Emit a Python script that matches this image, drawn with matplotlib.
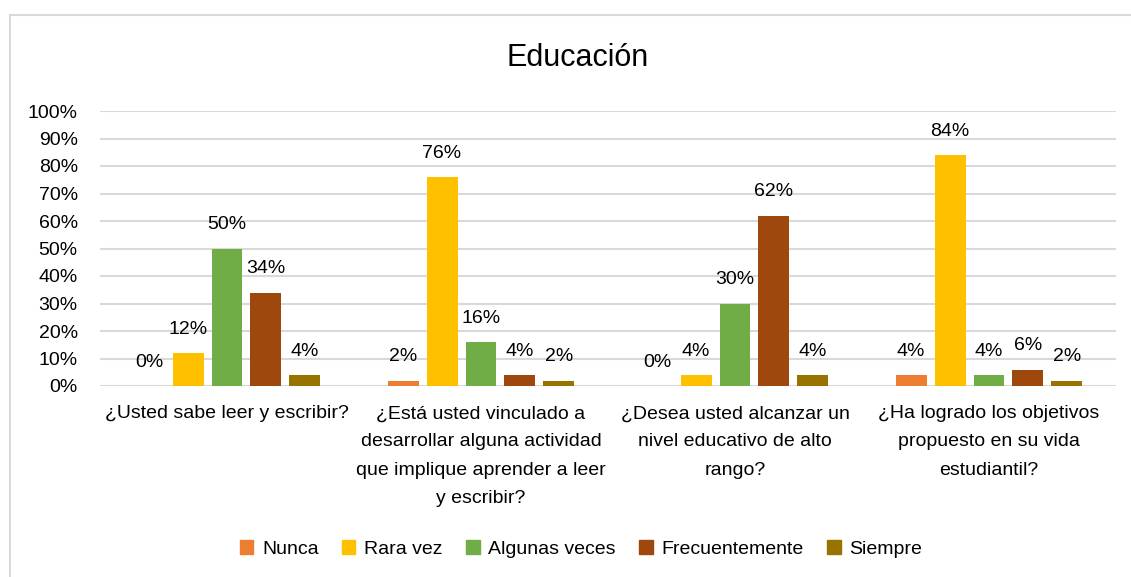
import numpy as np
import matplotlib.pyplot as plt
from matplotlib.lines import Line2D

plt.rcParams['font.family'] = ['Liberation Sans', 'DejaVu Sans']

questions = [
    "¿Usted sabe leer y escribir?",
    "¿Está usted vinculado a\ndesarrollar alguna actividad\nque implique aprender a leer\ny escribir?",
    "¿Desea usted alcanzar un\nnivel educativo de alto\nrango?",
    "¿Ha logrado los objetivos\npropuesto en su vida\nestudiantil?",
]
series = ["Nunca", "Rara vez", "Algunas veces", "Frecuentemente", "Siempre"]
nunca = [0, 2, 0, 4]
rara_vez = [12, 76, 4, 84]
algunas_veces = [50, 16, 30, 4]
frecuentemente = [34, 4, 62, 6]
siempre = [4, 2, 4, 2]
yticks = [0, 10, 20, 30, 40, 50, 60, 70, 80, 90, 100]

values = [nunca, rara_vez, algunas_veces, frecuentemente, siempre]
colors = ['#ED7D31', '#FFC000', '#70AD47', '#9E480E', '#997300']

fig = plt.figure(figsize=(11.31, 5.77), dpi=100)
ax = fig.add_axes([100/1131, 1 - 386/577, 1016/1131, 275/577])

x = np.arange(len(questions))
step = 0.1535
width = 0.122
for i, (name, vals, c) in enumerate(zip(series, values, colors)):
    bars = ax.bar(x + (i - 2) * step, vals, width, color=c, label=name, zorder=3)
    ax.bar_label(bars, labels=[f"{v}%" for v in vals], padding=11, fontsize=14)

ax.set_xlim(-0.5, 3.5)
ax.set_ylim(0, 100)
ax.set_yticks(yticks)
ax.set_yticklabels([f"{t}%" for t in yticks], fontsize=14)
ax.set_xticks(x)
ax.set_xticklabels(questions, fontsize=14, linespacing=1.85)
ax.tick_params(axis='both', length=0)
ax.tick_params(axis='y', pad=16)
ax.tick_params(axis='x', pad=14)
ax.grid(axis='y', color='#D9D9D9', linewidth=1.5, zorder=0)
for s in ax.spines.values():
    s.set_visible(False)

fig.text(578/1131, 1 - 58/577, "Educación", ha='center', va='center', fontsize=22)

handles = [plt.Rectangle((0, 0), 1, 1, color=c) for c in colors]
fig.legend(handles, series, loc='center', bbox_to_anchor=(581/1131, 1 - 549/577),
           ncol=5, frameon=False, fontsize=14, handlelength=0.7, handleheight=0.7,
           handletextpad=0.45, columnspacing=1.2)

# outer chart border
fig.add_artist(Line2D([10/1131, 1], [1 - 15/577, 1 - 15/577], color='#D9D9D9', linewidth=1.5))
fig.add_artist(Line2D([10/1131, 10/1131], [0, 1 - 15/577], color='#D9D9D9', linewidth=1.5))

fig.savefig('out.png', dpi=100, facecolor='white')
